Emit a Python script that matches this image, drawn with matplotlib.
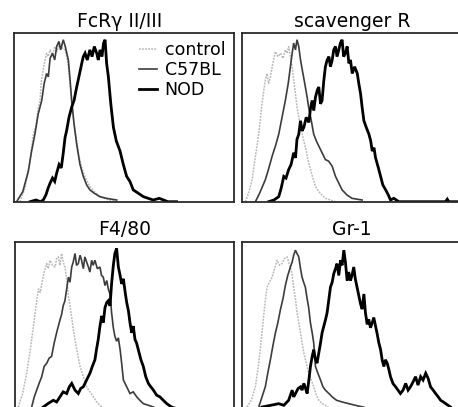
import matplotlib
matplotlib.use("Agg")
import matplotlib.pyplot as plt

# ---------------- data (channel 0-100, relative count 0-100) ----------------
titles = ["FcRγ II/III", "scavenger R", "F4/80", "Gr-1"]
series_labels = ["control", "C57BL", "NOD"]

# Panel 1: FcRγ II/III
fc_ctrl_x = [2.7, 5, 7, 8.8, 10, 11, 11.8, 12.5, 13.5, 14.8, 15.5, 16.4, 17.5, 18.6, 19.5, 20.9, 22, 23.2, 24, 24.7,
             25.5, 26.2, 27.3, 28.5, 29.5, 30.8, 32.5, 34.5, 36.5, 39, 42, 46.7]
fc_ctrl_y = [0, 8, 22, 40, 45, 55, 60, 72, 80, 88, 86, 90, 87, 92, 89, 94, 91, 90, 86, 80,
             70, 60, 46, 36, 27, 20, 14, 9, 6, 3, 1.5, 0]
fc_c57_x = [1.2, 4, 6.5, 8, 9.5, 11, 12.6, 13.7, 14.8, 15.6, 16.4, 17.5, 18.5, 19.4, 20.4, 21.2, 22.4, 23.3, 24, 24.7,
            25.5, 26.2, 27.3, 28.5, 30, 31.5, 33, 34.5, 36.5, 39, 42, 46.7]
fc_c57_y = [0, 6, 18, 30, 40, 52, 60, 70, 76, 74, 85, 88, 84, 92, 95, 90, 96, 92, 88, 84,
            72, 60, 46, 34, 22, 15, 10, 7, 5, 3, 2, 1]
fc_nod_x = [7.3, 10, 12, 13.3, 14.5, 15.5, 16.4, 17.5, 18.5, 19.4, 20.5, 21.5, 22.4, 23.2, 23.9, 25, 26.2, 27.3, 28.5, 29.5,
            30.8, 31.5, 32.3, 33.3, 34.5, 35.5, 36.5, 37.6, 38.3, 39.1, 40, 40.7, 41.4, 42.1, 42.9, 44, 45.2, 46.5, 48.2, 49.7,
            51.2, 52.7, 54.2, 56.5, 58.8, 61, 63.3, 66, 70, 73.9]
fc_nod_y = [0, 1, 0, 1, 4, 8, 11, 14, 12, 17, 22, 20, 29, 38, 42, 50, 56, 60, 68, 74,
            82, 86, 88, 84, 90, 86, 92, 88, 84, 90, 86, 94, 96, 82, 74, 58, 44, 36, 30, 22,
            15, 12, 7, 5, 3, 2, 1, 2, 0, 0]

# Panel 2: scavenger R
sc_ctrl_x = [1.5, 3, 4.6, 6, 7.6, 8.8, 9.9, 10.6, 11.4, 12.1, 12.9, 14, 15.2, 16.3, 17.5, 18.6, 19.7, 20.5, 21.2, 22,
             22.8, 23.5, 24.3, 25, 25.8, 27, 28.1, 29.2, 30.3, 32, 33.4, 35.5, 37.9, 42.5]
sc_ctrl_y = [0, 5, 13, 26, 40, 55, 66, 72, 76, 70, 74, 82, 89, 86, 88, 85, 90, 88, 92, 86,
             80, 72, 64, 56, 50, 42, 36, 30, 23, 15, 9, 5, 2, 0]
sc_c57_x = [6.1, 8, 10.6, 12, 13.7, 15.2, 16.7, 18.2, 19.7, 21, 22, 22.8, 23.5, 24.3, 25, 25.8, 26.6, 27.7, 28.8, 29.6,
            30.3, 31.5, 32.6, 33.8, 34.9, 36.4, 37.9, 39.4, 41, 42.5, 44, 45.5, 47.7, 50, 54.6]
sc_c57_y = [0, 5, 13, 19, 27, 33, 40, 50, 60, 70, 80, 88, 94, 90, 96, 92, 84, 76, 68, 62,
            56, 48, 40, 36, 33, 29, 25, 24, 21, 15, 11, 7, 4, 2, 1]
sc_nod_x = [12.1, 14.5, 16.7, 17.8, 19, 20, 21.2, 22.3, 23.5, 24.3, 25, 25.8, 26.6, 27.3, 28.1, 29.2, 30.4, 31.1, 31.9, 32.6,
            33.4, 34.2, 34.9, 35.7, 36.4, 37.2, 37.9, 38.7, 39.5, 40.2, 41, 41.7, 42.5, 43.2, 44, 44.7, 45.5, 46.2, 47, 47.8,
            48.6, 49.3, 50.1, 51.2, 52.4, 53.1, 53.9, 54.6, 55.4, 56.5, 57.7, 58.5, 59.2, 60, 60.7, 62, 63, 64, 65.3, 66.5,
            67.5, 69, 71.3, 75, 80, 85, 90, 92.5, 93.3, 94, 100]
sc_nod_y = [0, 1, 3, 8, 15, 14, 19, 22, 29, 26, 37, 40, 48, 42, 44, 50, 47, 55, 60, 54,
            62, 66, 68, 58, 60, 72, 80, 84, 86, 80, 84, 90, 92, 86, 90, 94, 96, 86, 88, 92,
            82, 84, 76, 80, 76, 70, 64, 56, 48, 44, 40, 36, 30, 32, 26, 20, 15, 10, 7, 4,
            1, 2, 0, 0, 0, 0, 0, 0, 1.5, 0, 0]

# Panel 3: F4/80
f4_ctrl_x = [1.5, 3.5, 5.3, 7, 8.4, 9.6, 10.7, 11.5, 12.2, 13.3, 14.5, 15.2, 16, 17.1, 18.3, 19, 19.8, 20.5, 21.3, 22,
             22.8, 23.6, 24.4, 25.1, 25.9, 26.6, 27.4, 28.5, 29.7, 31.2, 32.7, 34.2, 35.8, 37.3, 38.8, 41]
f4_ctrl_y = [2, 10, 22, 36, 50, 62, 72, 70, 75, 82, 87, 84, 89, 86, 85, 90, 91, 86, 93, 88,
             85, 78, 68, 62, 55, 48, 42, 34, 26, 20, 14, 11, 8, 5, 3, 1]
f4_c57_x = [7.6, 8.8, 9.9, 11, 12.2, 13.3, 14.5, 15.6, 16.7, 17.9, 19, 20.2, 21.3, 22, 22.8, 23.6, 24.4, 25.1, 25.9, 26.6,
            27.4, 28.1, 28.9, 29.7, 30.4, 31.2, 31.9, 32.7, 33.5, 34.2, 35, 35.7, 36.5, 37.6, 38.8, 39.5, 40.3, 41.1, 41.9, 42.6,
            43.4, 44.1, 44.9, 45.6, 46.4, 47.2, 48, 48.7, 49.5, 51, 52.5, 54, 55.6, 57, 58.6, 61, 63.2, 66]
f4_c57_y = [2, 8, 12, 16, 20, 26, 28, 31, 32, 40, 46, 52, 57, 62, 65, 72, 79, 76, 85, 88,
            93, 86, 87, 92, 89, 84, 91, 88, 85, 82, 89, 86, 89, 84, 85, 80, 79, 74, 77, 72,
            69, 58, 49, 44, 41, 43, 36, 28, 18, 14, 10, 11, 8, 6, 4, 3, 2, 0]
f4_nod_x = [12.9, 15, 17.5, 19, 20.5, 22, 23.6, 24.8, 25.9, 27.4, 28.9, 30, 31.2, 32.7, 34.2, 35.3, 36.5, 37.2, 38, 38.8,
            39.6, 40.3, 41.1, 41.9, 42.6, 43.4, 44.1, 44.9, 45.6, 46.4, 47.2, 48, 48.7, 49.5, 50.2, 51, 51.8, 52.5, 53.3, 54,
            54.8, 55.5, 56.3, 57.5, 58.6, 59.7, 60.9, 62, 63.2, 64.7, 66.2, 67.7, 69.3, 71.5, 73.8, 76]
f4_nod_y = [2, 4, 6, 5, 8, 11, 10, 14, 16, 12, 10, 13, 14, 18, 22, 26, 30, 36, 42, 50,
            56, 52, 61, 64, 65, 62, 75, 86, 93, 96, 85, 80, 75, 78, 71, 64, 59, 52, 46, 50,
            42, 40, 36, 30, 26, 20, 16, 14, 12, 9, 8, 6, 4, 2, 1, 0]

# Panel 4: Gr-1
gr_ctrl_x = [2.3, 4.2, 6.1, 7.6, 9.1, 10.3, 11.4, 12.5, 13.7, 14.8, 15.9, 17, 18.2, 19.3, 20.5, 21.2, 22, 22.8, 23.5, 24.3,
             25, 25.8, 26.6, 27.3, 28.1, 29.2, 30.3, 31.5, 32.6, 33.8, 34.9, 36.4, 37.9, 40]
gr_ctrl_y = [2, 6, 14, 28, 46, 62, 73, 76, 79, 84, 89, 86, 87, 90, 91, 88, 85, 80, 73, 66,
             58, 52, 46, 40, 34, 28, 22, 18, 14, 9, 6, 4, 3, 1]
gr_c57_x = [7.6, 9.1, 10.6, 11.7, 12.9, 14, 15.2, 16.3, 17.5, 18.6, 19.7, 20.8, 22, 22.8, 23.5, 24.3, 25, 25.8, 26.6, 27.3,
            28, 28.8, 29.5, 30.3, 31.1, 31.9, 32.6, 33.4, 34.5, 35.7, 36.8, 37.9, 39.5, 41, 43, 45.5, 48.5, 51.6, 55, 57.7]
gr_c57_y = [2, 8, 14, 22, 30, 38, 46, 52, 60, 66, 74, 80, 85, 88, 92, 95, 93, 91, 84, 79,
            76, 73, 67, 61, 52, 46, 40, 26, 22, 18, 14, 12, 10, 8, 6, 5, 4, 3, 2, 1]
gr_nod_x = [9.1, 13, 16.7, 19, 21.2, 22, 22.8, 23.5, 24.3, 25.5, 26.6, 27.3, 28.1, 28.9, 29.6, 30.4, 31.1, 31.9, 32.6, 33.4,
            34.1, 34.9, 35.7, 36.4, 37.2, 38, 38.7, 39.5, 40.2, 41, 41.7, 42.5, 43.2, 44, 44.8, 45.5, 46.3, 47, 47.8, 48.5,
            49.3, 50, 50.8, 51.5, 52.3, 53.1, 53.9, 54.6, 55.4, 56.1, 56.9, 57.6, 58.4, 59.2, 59.9, 60.7, 61.5, 62.2, 63, 63.7,
            64.5, 65.2, 66, 66.8, 67.5, 68.6, 69.8, 70.9, 72, 73.2, 74.4, 75.5, 76.6, 77.8, 78.9, 80, 81.2, 82.3, 83.5, 84.6,
            85.7, 86.9, 88, 89.2, 90.3, 91.5, 92.6, 93.7, 94.8, 96]
gr_nod_y = [2, 3, 4, 3, 6, 9, 12, 8, 10, 13, 14, 12, 16, 13, 10, 18, 26, 32, 36, 30,
            28, 34, 40, 46, 50, 54, 58, 66, 73, 76, 81, 84, 87, 80, 89, 86, 95, 88, 77, 82,
            77, 80, 85, 78, 73, 68, 63, 60, 69, 58, 51, 54, 49, 52, 55, 50, 45, 40, 36, 30,
            26, 30, 28, 24, 20, 16, 14, 12, 10, 12, 16, 12, 14, 17, 20, 15, 20, 18, 22, 19,
            14, 12, 10, 8, 6, 5, 4, 3, 2, 0]

panels = [
    [(fc_ctrl_x, fc_ctrl_y), (fc_c57_x, fc_c57_y), (fc_nod_x, fc_nod_y)],
    [(sc_ctrl_x, sc_ctrl_y), (sc_c57_x, sc_c57_y), (sc_nod_x, sc_nod_y)],
    [(f4_ctrl_x, f4_ctrl_y), (f4_c57_x, f4_c57_y), (f4_nod_x, f4_nod_y)],
    [(gr_ctrl_x, gr_ctrl_y), (gr_c57_x, gr_c57_y), (gr_nod_x, gr_nod_y)],
]

# ---------------- styles ----------------
styles = [
    dict(color="#b8b8b8", lw=1.1, ls=(0, (1.2, 0.8))),
    dict(color="#3c3c3c", lw=1.2, ls="-"),
    dict(color="#000000", lw=2.0, ls="-"),
]

plt.rcParams["font.family"] = ["DejaVu Sans"]

W, H = 458, 407
fig = plt.figure(figsize=(W / 100, H / 100), dpi=100)

# axes boxes in pixels: (left, top, width, height)
boxes = [(14, 33, 220, 168.7), (242, 33, 220, 168.7),
         (15, 241.7, 219, 168.7), (242, 241.7, 220, 168.7)]
title_x = [0.48, 0.5, 0.5, 0.5]

for i, (ax_box, series) in enumerate(zip(boxes, panels)):
    l, t, w, h = ax_box
    ax = fig.add_axes([l / W, (H - t - h) / H, w / W, h / H])
    for (xs, ys), st, lab in zip(series, styles, series_labels):
        ax.plot(xs, ys, color=st["color"], lw=st["lw"], ls=st["ls"], label=lab,
                solid_joinstyle="miter")
    ax.set_xlim(0, 100)
    ax.set_ylim(0, 100)
    ax.set_xticks([])
    ax.set_yticks([])
    for sp in ax.spines.values():
        sp.set_color("#2a2a2a")
        sp.set_linewidth(1.3)
    ax.set_title(titles[i], fontsize=13.5, pad=4.5, x=title_x[i])
    if i == 0:
        ax.legend(loc="upper left", bbox_to_anchor=(0.57, 0.95), frameon=False,
                  fontsize=12.5, handlelength=1.0, handletextpad=0.45,
                  labelspacing=0.1, borderpad=0, borderaxespad=0)

fig.savefig("out.png", dpi=100)
